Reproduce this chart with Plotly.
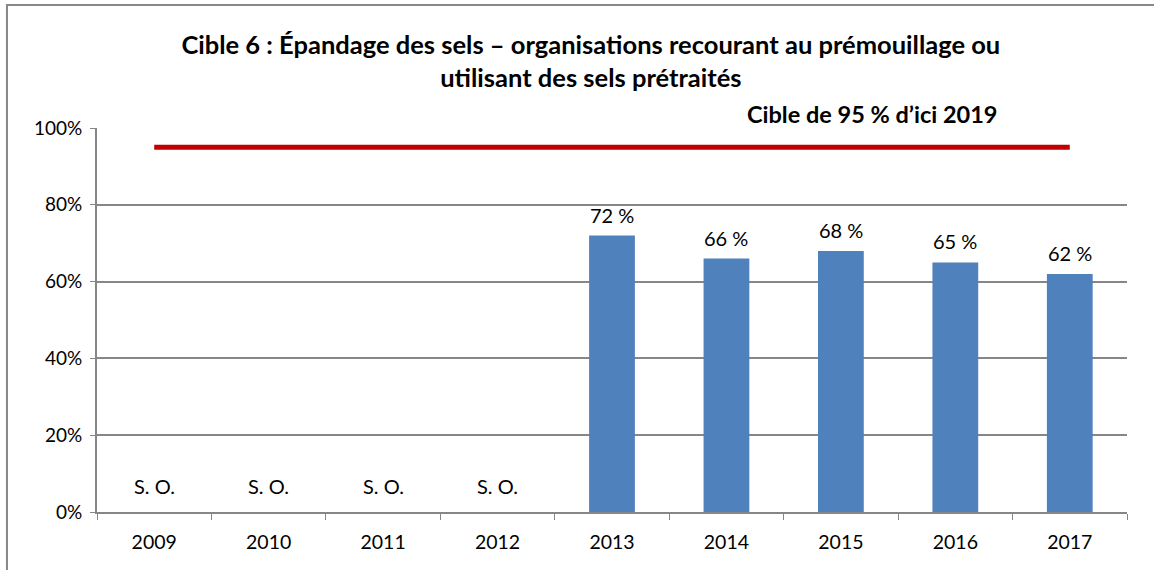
import plotly.graph_objects as go

years = ["2009", "2010", "2011", "2012", "2013", "2014", "2015", "2016", "2017"]
values = [None, None, None, None, 0.72, 0.66, 0.68, 0.65, 0.62]
labels = ["S. O.", "S. O.", "S. O.", "S. O.", "72 %", "66 %", "68 %", "65 %", "62 %"]
target = 0.95
target_label = "Cible de 95 % d’ici 2019"
title = "Cible 6 : Épandage des sels – organisations recourant au prémouillage ou<br>utilisant des sels prétraités"
ytickvals = [0, 0.2, 0.4, 0.6, 0.8, 1.0]
yticktext = ["0%", "20%", "40%", "60%", "80%", "100%"]

FONT = "Lato"
fig = go.Figure()
fig.add_trace(go.Bar(
    x=years, y=[v if v is not None else 0 for v in values],
    marker=dict(color="#4F81BD", line=dict(width=0)),
    showlegend=False, hoverinfo="skip",
))
fig.add_trace(go.Scatter(
    x=[years[0], years[-1]], y=[target, target], mode="lines",
    line=dict(color="#C00000", width=5), showlegend=False, hoverinfo="skip",
))
for i, (v, l) in enumerate(zip(values, labels)):
    fig.add_annotation(x=i, y=(v if v is not None else 0), text=l, showarrow=False, yanchor="bottom",
                       yshift=(12 if v is None else 7),
                       font=dict(family=FONT, size=20, color="#000000"))
fig.add_annotation(x=0.753, xref="paper", y=1.0, yref="paper", text="<b>" + target_label + "</b>",
                   showarrow=False, yanchor="bottom", xanchor="center", yshift=-2,
                   font=dict(family=FONT, size=23.5, color="#000000"))
# outer chart border
fig.add_shape(type="rect", xref="paper", yref="paper", x0=-0.0874, x1=1.2, y0=-0.5, y1=1.32,
              line=dict(color="#888888", width=2), layer="below")

fig.update_layout(
    width=1154, height=570,
    margin=dict(l=97, r=27, t=128, b=58, autoexpand=False),
    paper_bgcolor="white", plot_bgcolor="white",
    title=dict(text="<b>" + title + "</b>", x=0.512, xanchor="center", y=0.905, yanchor="middle",
               font=dict(family=FONT, size=25.5, color="#000000")),
    bargap=0.6,
    xaxis=dict(type="category", range=[-0.5, 8.5], showline=True, linecolor="#868686", linewidth=2,
               ticks="outside", tickson="boundaries", ticklen=6, tickcolor="#868686", tickangle=0,
               ticklabelstandoff=12,
               tickfont=dict(family=FONT, size=19.5, color="#000000"), automargin=False,
               showgrid=False, fixedrange=True),
    yaxis=dict(range=[0, 1.0], tickvals=ytickvals, ticktext=yticktext, showline=True,
               linecolor="#868686", linewidth=2, ticks="outside", ticklen=5, tickcolor="#868686",
               gridcolor="#868686", gridwidth=1.5, zeroline=False, automargin=False,
               ticklabelstandoff=4,
               tickfont=dict(family=FONT, size=19, color="#000000"), fixedrange=True),
)
fig.write_html("out.html", config={"displayModeBar": False},
               post_script="document.body.style.margin='0';")
